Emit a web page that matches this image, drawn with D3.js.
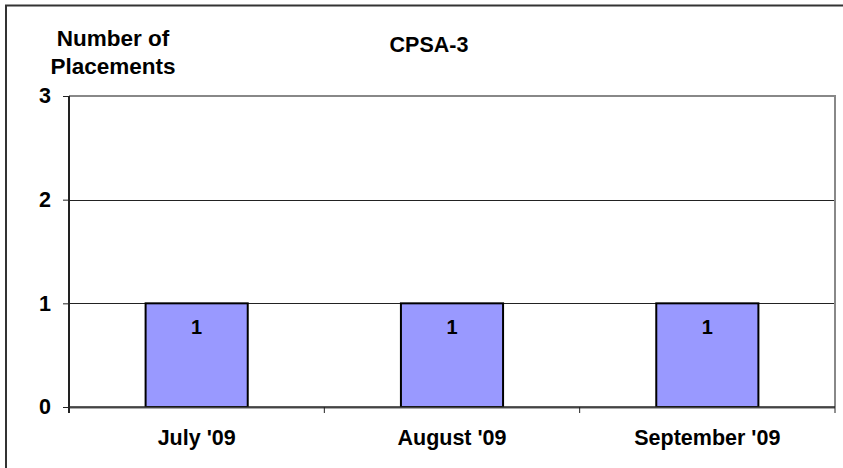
<!DOCTYPE html>
<html>
<head>
<meta charset="utf-8">
<script src="https://cdn.jsdelivr.net/npm/d3@7"></script>
<style>
  body { margin: 0; background: #fff; }
  svg text { font-family: Arial, "Liberation Sans", sans-serif; font-weight: bold; fill: #000; }
</style>
</head>
<body>
<svg id="chart" width="843" height="468"></svg>
<script>
const months = ["July '09", "August '09", "September '09"]
const placements = [1, 1, 1]
const yTickValues = [0, 1, 2, 3]

const svg = d3.select('#chart')
const plotLeft = 69
const plotRight = 835
const plotTop = 96
const plotBottom = 407
const barColor = '#9999FF'

// outer frame (only top/left edges fall inside the picture)
svg.append('rect')
  .attr('x', 6).attr('y', 5.5)
  .attr('width', 900).attr('height', 500)
  .attr('fill', 'none')
  .style('stroke', '#333')
  .style('stroke-width', 2)

const xScale = d3.scaleBand()
  .domain(months)
  .range([plotLeft, plotRight])
  .paddingInner(0.6)
  .paddingOuter(0.3)

const yScale = d3.scaleLinear()
  .domain([0, 3])
  .range([plotBottom, plotTop])

// gridlines
svg.append('g')
  .selectAll('line')
  .data(yTickValues.filter(d => d > 0 && d < 3))
  .enter()
  .append('line')
    .attr('x1', plotLeft)
    .attr('x2', plotRight)
    .attr('y1', d => Math.round(yScale(d)) + 0.5)
    .attr('y2', d => Math.round(yScale(d)) + 0.5)
    .style('stroke', '#222')
    .style('stroke-width', 1)

// plot border, top and right in grey
svg.append('path')
  .attr('d', `M ${plotLeft} ${yScale(3)} H ${plotRight} V ${plotBottom}`)
  .attr('fill', 'none')
  .style('stroke', '#888')
  .style('stroke-width', 2)

// bars
svg.append('g')
  .selectAll('rect')
  .data(placements)
  .enter()
  .append('rect')
    .attr('x', (d, i) => xScale(months[i]))
    .attr('y', d => yScale(d))
    .attr('width', xScale.bandwidth())
    .attr('height', d => yScale(0) - yScale(d))
    .attr('fill', barColor)
    .style('stroke', '#000')
    .style('stroke-width', 2)

// value labels
svg.append('g')
  .selectAll('text')
  .data(placements)
  .enter()
  .append('text')
    .attr('x', (d, i) => xScale(months[i]) + xScale.bandwidth() / 2)
    .attr('y', d => yScale(d) + 31)
    .attr('text-anchor', 'middle')
    .style('font-size', '20px')
    .text(d => d)

// x axis
svg.append('line')
  .attr('x1', plotLeft).attr('x2', plotRight)
  .attr('y1', plotBottom + 1).attr('y2', plotBottom + 1)
  .style('stroke', '#aaa')
  .style('stroke-width', 2)
svg.append('line')
  .attr('x1', plotLeft).attr('x2', plotRight)
  .attr('y1', plotBottom).attr('y2', plotBottom)
  .style('stroke', '#222')
  .style('stroke-width', 1.5)

const step = xScale.step()
svg.append('g')
  .selectAll('line')
  .data(d3.range(1, months.length + 1))
  .enter()
  .append('line')
    .attr('x1', k => plotLeft + k * step)
    .attr('x2', k => plotLeft + k * step)
    .attr('y1', plotBottom)
    .attr('y2', plotBottom + 6)
    .style('stroke', '#222')
    .style('stroke-width', 1)

svg.append('g')
  .selectAll('text')
  .data(months)
  .enter()
  .append('text')
    .attr('x', d => xScale(d) + xScale.bandwidth() / 2)
    .attr('y', 445)
    .attr('text-anchor', 'middle')
    .style('font-size', '21.5px')
    .text(d => d)

// y axis
const yAxis = d3.axisLeft(yScale)
  .tickValues(yTickValues)
  .tickSize(6)
  .tickPadding(12)
  .tickFormat(d3.format('d'))

const yAxisG = svg.append('g')
  .attr('transform', `translate(${plotLeft}, 0)`)
  .call(yAxis)

yAxisG.select('path.domain').remove()
yAxisG.append('line')
  .attr('x1', 0).attr('x2', 0)
  .attr('y1', plotTop).attr('y2', plotBottom + 6)
  .style('stroke', '#222')
  .style('stroke-width', 2)
yAxisG.selectAll('.tick line').style('stroke', '#222')
yAxisG.selectAll('.tick text')
  .style('font-family', 'Arial, "Liberation Sans", sans-serif')
  .style('font-weight', 'bold')
  .style('font-size', '21.5px')
  .style('fill', '#000')

// titles
svg.append('text')
  .attr('x', 429)
  .attr('y', 52)
  .attr('text-anchor', 'middle')
  .style('font-size', '21.5px')
  .text('CPSA-3')

svg.append('text')
  .attr('x', 113)
  .attr('y', 46)
  .attr('text-anchor', 'middle')
  .style('font-size', '22.5px')
  .text('Number of')

svg.append('text')
  .attr('x', 113)
  .attr('y', 74)
  .attr('text-anchor', 'middle')
  .style('font-size', '22.5px')
  .text('Placements')
</script>
</body>
</html>
